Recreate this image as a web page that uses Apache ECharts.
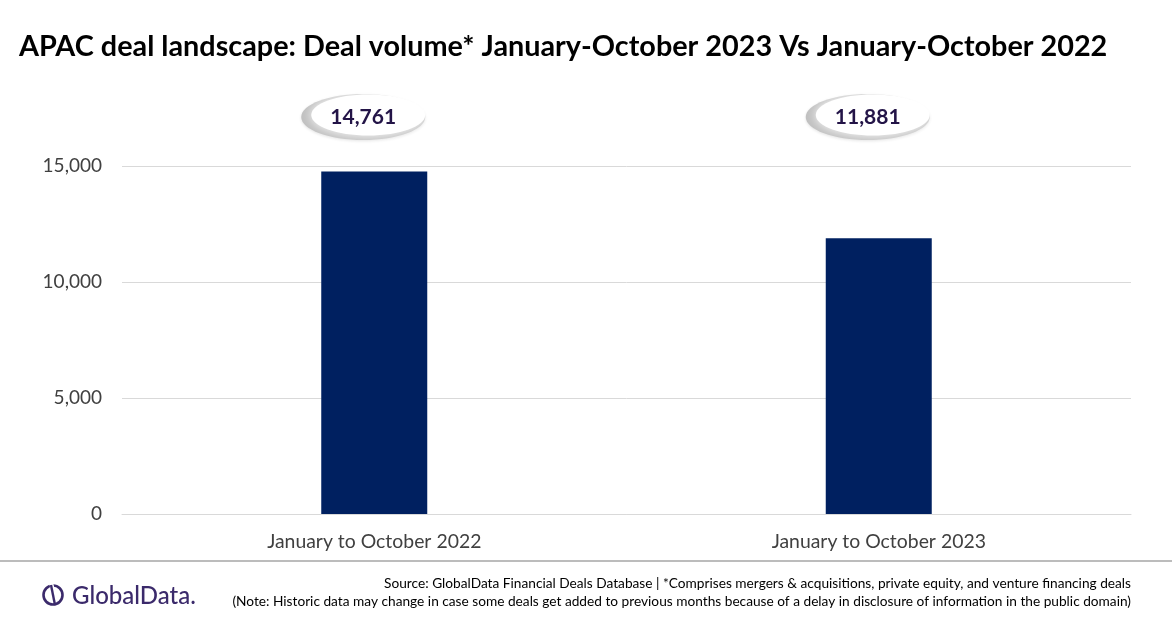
<!DOCTYPE html>
<html><head><meta charset="utf-8">
<script src="https://cdn.jsdelivr.net/npm/echarts@6/dist/echarts.min.js"></script>
<style>html,body{margin:0;padding:0;background:#fff}#c{width:1172px;height:628px}</style>
</head><body><div id="c"></div>
<script>
const categories = ['January to October 2022', 'January to October 2023'];
const dealVolume = [14761, 11881];
const yTicks = [0, 5000, 10000, 15000];

const chart = echarts.init(document.getElementById('c'));
const fmt = v => v.toLocaleString('en-US');
const FONT = 'Lato, "Open Sans", sans-serif';

chart.setOption({
  animation: false,
  backgroundColor: '#fff',
  title: {
    text: 'APAC deal landscape: Deal volume* January-October 2023 Vs January-October 2022',
    left: 14, top: 27,
    textStyle: { fontFamily: FONT, fontWeight: 'bold', fontSize: 28.8, color: '#000' }
  },
  grid: { left: 122, right: 41, top: 166, bottom: 114 },
  xAxis: {
    type: 'category', data: categories,
    axisLine: { lineStyle: { color: '#d9d9d9' } },
    axisTick: { show: false },
    axisLabel: { fontFamily: FONT, fontSize: 19.4, color: '#404040', margin: 18 }
  },
  yAxis: {
    type: 'value', min: yTicks[0], max: yTicks[yTicks.length - 1], interval: 5000,
    axisLine: { show: false }, axisTick: { show: false },
    splitLine: { lineStyle: { color: '#d9d9d9' } },
    axisLabel: { fontFamily: FONT, fontSize: 19, color: '#404040', margin: 20, formatter: v => fmt(v) }
  },
  series: [
    {
      type: 'bar', data: dealVolume, barWidth: 106,
      itemStyle: { color: '#002060' }
    },
    {
      type: 'custom',
      data: dealVolume.map((v, i) => [i, v]),
      z: 5,
      renderItem: function (params, api) {
        const pt = api.coord([api.value(0), 0]);
        const cx = pt[0] - 11;
        const cy = params.coordSys.y - 49;
        return {
          type: 'group',
          children: [
            {
              type: 'ellipse',
              shape: { cx: cx, cy: cy, rx: 62, ry: 23 },
              style: { fill: '#bfbfbf', shadowBlur: 3, shadowColor: 'rgba(0,0,0,0.12)', shadowOffsetY: 1 }
            },
            {
              type: 'ellipse',
              shape: { cx: cx + 5, cy: cy - 2, rx: 57, ry: 20.5 },
              style: { fill: '#ffffff', shadowBlur: 12, shadowColor: '#ffffff' }
            },
            {
              type: 'text',
              style: {
                x: cx, y: cy, text: fmt(api.value(1)),
                align: 'center', verticalAlign: 'middle',
                font: 'bold 21px ' + FONT, fill: '#231447'
              }
            }
          ]
        };
      }
    }
  ],
  graphic: [
    { type: 'line', shape: { x1: 0, y1: 561, x2: 1172, y2: 561 }, style: { stroke: '#a6a6a6', lineWidth: 1.5 } },
    { type: 'circle', shape: { cx: 53, cy: 595, r: 9.5 }, style: { fill: 'none', stroke: '#3b2a6b', lineWidth: 2.6 } },
    { type: 'line', shape: { x1: 51, y1: 583, x2: 55, y2: 597 }, style: { stroke: '#fff', lineWidth: 4 } },
    { type: 'line', shape: { x1: 51, y1: 585, x2: 55, y2: 605 }, style: { stroke: '#3b2a6b', lineWidth: 2.4 } },
    { type: 'text', style: { x: 72, y: 596, text: 'GlobalData.', font: '500 24px ' + FONT, fill: '#3b2a6b', verticalAlign: 'middle' } },
    { type: 'text', style: { x: 1131, y: 584, text: 'Source: GlobalData Financial Deals Database | *Comprises mergers & acquisitions, private equity, and venture financing deals', font: '13.7px ' + FONT, fill: '#000', align: 'right', verticalAlign: 'middle' } },
    { type: 'text', style: { x: 1131, y: 602, text: '(Note: Historic data may change in case some deals get added to previous months because of a delay in disclosure of information in the public domain)', font: '13.7px ' + FONT, fill: '#000', align: 'right', verticalAlign: 'middle' } }
  ]
});
</script></body></html>
